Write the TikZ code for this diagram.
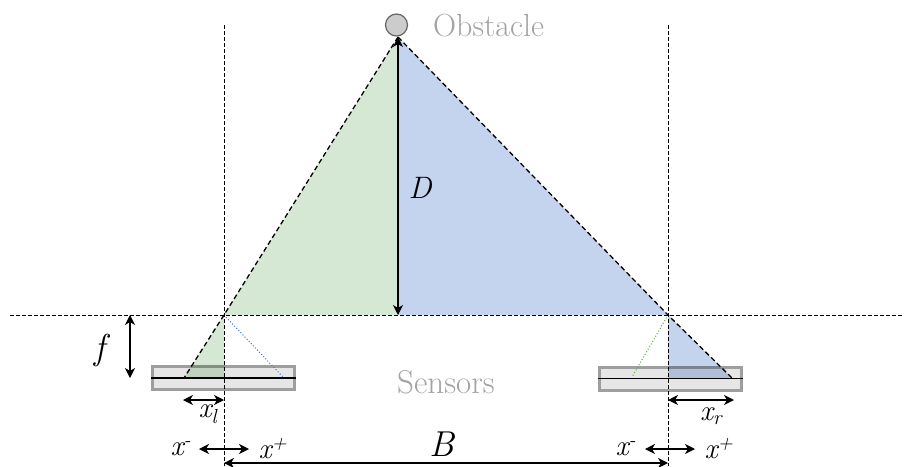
\documentclass[tikz,border=0pt]{standalone}
\usetikzlibrary{arrows.meta}
\definecolor{viewgreen}{HTML}{D5E8D4}
\definecolor{viewblue}{HTML}{C4D4EE}
\definecolor{sensorfill}{HTML}{E6E6E6}
\definecolor{sensorgray}{HTML}{9E9E9E}
\definecolor{labelgray}{HTML}{A3A3A3}
\definecolor{raygreen}{HTML}{5FAE3A}
\definecolor{rayblue}{HTML}{3A6FD8}
\begin{document}
\begin{tikzpicture}[x=1pt, y=-1pt, >={Stealth[length=10pt,width=10pt,inset=3pt]},
	guide/.style={dash pattern=on 3.5pt off 2.5pt, line width=1pt},
	ray/.style={dash pattern=on 5pt off 3pt, line width=1.3pt},
	dim/.style={<->, line width=1.3pt},
	sensor/.style={draw=sensorgray, fill=sensorfill, line width=3pt, minimum width=142pt, minimum height=23pt, inner sep=0pt},
	lbl/.style={font=\fontsize{29}{32}\selectfont\itshape, inner sep=1pt},
	big/.style={font=\fontsize{32}{38}\selectfont, inner sep=1pt},
	bigit/.style={font=\fontsize{36}{40}\selectfont\itshape, inner sep=1pt}]
	\useasboundingbox (0,0) rectangle (904,466);
	% geometry
	\coordinate (apex) at (398,37);
	\coordinate (lensL) at (224,315);
	\coordinate (lensR) at (668,315);
	\coordinate (foot) at (398,315);
	\coordinate (imgL) at (184,378);
	\coordinate (imgR) at (732,378);
	\coordinate (baseL) at (224,378);
	\coordinate (baseR) at (668,378);
	% fields of view
	\fill[viewgreen] (apex) -- (lensL) -- (foot) -- cycle;
	\fill[viewblue] (apex) -- (lensR) -- (foot) -- cycle;
	% sensors
	\node[sensor] (sensorL) at (223.5,378) {};
	\node[sensor] (sensorR) at (670,378.5) {};
	\begin{scope}[blend mode=multiply]
		\fill[viewgreen] (lensL) -- (imgL) -- (baseL) -- cycle;
		\fill[viewblue] (lensR) -- (imgR) -- (baseR) -- cycle;
	\end{scope}
	\draw[line width=1.2pt] (sensorL.west) -- (sensorL.east);
	\draw[line width=1.2pt] (sensorR.west) -- (sensorR.east);
	\draw[rayblue, dotted, line width=1pt] (lensL) -- (283,377);
	\draw[raygreen, dotted, line width=1pt] (lensR) -- (632,377);
	% guides
	\draw[guide] (10,315) -- (904,315);
	\draw[guide] (224,25) -- (224,466);
	\draw[guide] (668,25) -- (668,466);
	\draw[ray] (apex) -- (lensL) -- (imgL);
	\draw[ray] (apex) -- (lensR) -- (imgR);
	\node[circle, draw=black!60, fill=black!20, line width=1.2pt, minimum size=22pt, inner sep=0pt] (obstacle) at (396.5,25) {};
	\node[big, text=labelgray, anchor=west] (obstacleLabel) at (432,26) {Obstacle};
	\node[big, font=\fontsize{33}{38}\selectfont, text=labelgray] (sensorsLabel) at (446,382) {Sensors};
	% dimensions
	\draw[dim] (foot) -- (apex);
	\draw[dim] (130,315) -- (130,378);
	\draw[dim] (183,400) -- (224,400);
	\draw[dim] (668,400) -- (734,400);
	\draw[dim] (199,449) -- (249,449);
	\draw[dim] (645,449) -- (695,449);
	\draw[dim] (224,463) -- (668,463);
	\node[lbl, font=\fontsize{31}{34}\selectfont\itshape] (distD) at (420,188) {D};
	\node[bigit] (focalF) at (100,350) {f};
	\node[bigit] (baseB) at (442,444) {B};
	\node[lbl] (xl) at (208,414) {x\textsubscript{l}};
	\node[lbl] (xr) at (711,416) {x\textsubscript{r}};
	\node[lbl] (xmL) at (181,449) {x\textsuperscript{-}};
	\node[lbl] (xpL) at (273,449) {x\textsuperscript{+}};
	\node[lbl] (xmR) at (626,449) {x\textsuperscript{-}};
	\node[lbl] (xpR) at (719,449) {x\textsuperscript{+}};
\end{tikzpicture}
\end{document}
